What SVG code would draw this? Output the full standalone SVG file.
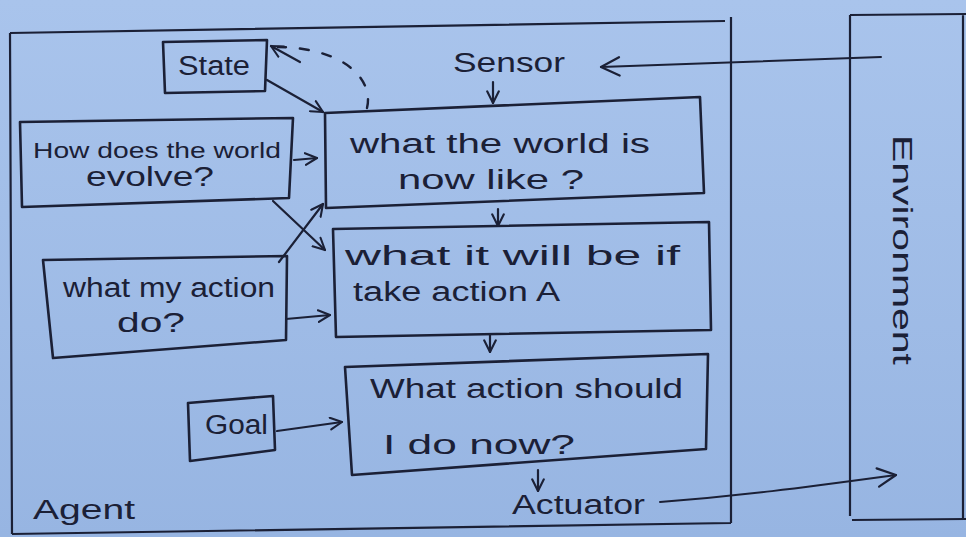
<svg xmlns="http://www.w3.org/2000/svg" width="966" height="537" viewBox="0 0 966 537">
  <defs>
    <linearGradient id="paper" x1="0" y1="0" x2="0" y2="1">
      <stop offset="0" stop-color="#a9c4ec"/>
      <stop offset="1" stop-color="#97b5e2"/>
    </linearGradient>
    <marker id="head" viewBox="0 0 12 12" refX="11" refY="6" markerWidth="14" markerHeight="14" markerUnits="userSpaceOnUse" orient="auto">
      <path d="M1,1 L11,6 L1,11" fill="none" stroke="#1b2036" stroke-width="1.8" stroke-linecap="round" stroke-linejoin="round"/>
    </marker>
    <marker id="headBig" viewBox="0 0 12 12" refX="11" refY="6" markerWidth="22" markerHeight="22" markerUnits="userSpaceOnUse" orient="auto">
      <path d="M1,1 L11,6 L1,11" fill="none" stroke="#1b2036" stroke-width="1.2" stroke-linecap="round" stroke-linejoin="round"/>
    </marker>
  </defs>
  <style>
    .frame { fill: none; stroke: #1b2036; stroke-width: 2.2; stroke-linejoin: round; }
    .box { fill: none; stroke: #1b2036; stroke-width: 2.6; stroke-linejoin: round; }
    .wire { fill: none; stroke: #1b2036; stroke-width: 2.2; stroke-linecap: round; marker-end: url(#head); }
    .long { fill: none; stroke: #1b2036; stroke-width: 2; stroke-linecap: round; marker-end: url(#headBig); }
    .dash { fill: none; stroke: #1b2036; stroke-width: 2.4; stroke-linecap: round; stroke-dasharray: 9 14; }
    text { font-family: "Liberation Sans", "DejaVu Sans", sans-serif; fill: #1b2036; }
    .t { font-size: 27px; }
    .s { font-size: 22px; }
  </style>

  <rect width="966" height="537" fill="url(#paper)"/>

  <!-- agent frame -->
  <g id="agent">
    <path class="frame" d="M10,33 L725,21 M731,17 L731,523 M12,534 L731,523 M10,33 L12,534"/>
    <text class="t" x="33" y="519" font-size="32" textLength="102" lengthAdjust="spacingAndGlyphs">Agent</text>
  </g>

  <!-- environment frame -->
  <g id="environment">
    <path class="frame" d="M850,15 L850,516 M850,15 L966,14 M852,520 L966,519 M963,15 L963,519"/>
    <text class="t" transform="translate(893,135) rotate(90)" font-size="30" textLength="230" lengthAdjust="spacingAndGlyphs">Environment</text>
  </g>

  <g id="state">
    <path class="box" d="M163,42 L267,40 L265,91 L165,93 Z"/>
    <text class="t" x="178" y="75" textLength="72" lengthAdjust="spacingAndGlyphs">State</text>
  </g>

  <g id="evolve">
    <path class="box" d="M20,122 L293,118 L289,198 L22,207 Z"/>
    <text class="s" x="33" y="158" textLength="248" lengthAdjust="spacingAndGlyphs">How does the world</text>
    <text class="t" x="86" y="186" textLength="128" lengthAdjust="spacingAndGlyphs">evolve?</text>
  </g>

  <g id="action-effect">
    <path class="box" d="M43,260 L287,256 L286,340 L53,358 Z"/>
    <text class="t" x="63" y="297" textLength="212" lengthAdjust="spacingAndGlyphs">what my action</text>
    <text class="t" x="117" y="332" textLength="68" lengthAdjust="spacingAndGlyphs">do?</text>
  </g>

  <g id="goal">
    <path class="box" d="M188,403 L273,396 L275,450 L190,461 Z"/>
    <text class="t" x="205" y="434" textLength="63" lengthAdjust="spacingAndGlyphs">Goal</text>
  </g>

  <g id="world-now">
    <path class="box" d="M325,113 L700,97 L704,193 L326,208 Z"/>
    <text class="t" x="350" y="153" textLength="300" lengthAdjust="spacingAndGlyphs">what the world is</text>
    <text class="t" x="398" y="189" textLength="186" lengthAdjust="spacingAndGlyphs">now like ?</text>
  </g>

  <g id="world-next">
    <path class="box" d="M333,229 L709,222 L711,330 L336,337 Z"/>
    <text class="t" x="345" y="265" textLength="335" lengthAdjust="spacingAndGlyphs">what it will be if</text>
    <text class="t" x="353" y="301" textLength="207" lengthAdjust="spacingAndGlyphs">take action A</text>
  </g>

  <g id="decide">
    <path class="box" d="M345,367 L708,354 L706,449 L352,475 Z"/>
    <text class="t" x="370" y="398" textLength="313" lengthAdjust="spacingAndGlyphs">What action should</text>
    <text class="t" x="383" y="454" textLength="192" lengthAdjust="spacingAndGlyphs">I do now?</text>
  </g>

  <g id="sensor">
    <text class="t" x="453" y="72" textLength="112" lengthAdjust="spacingAndGlyphs">Sensor</text>
  </g>

  <g id="actuator">
    <text class="t" x="512" y="514" textLength="133" lengthAdjust="spacingAndGlyphs">Actuator</text>
  </g>

  <!-- connectors -->
  <g id="connectors">
    <path class="long" d="M881,57 L601,67"/>
    <path class="wire" d="M493,82 L493,103"/>
    <path class="wire" d="M267,80 L323,112"/>
    <path class="dash" d="M367,108 C374,80 345,48 278,47"/>
    <path class="wire" d="M300,62 L271,46" stroke-dasharray="0"/>
    <path class="wire" d="M294,160 L317,158"/>
    <path class="wire" d="M273,201 L325,250"/>
    <path class="wire" d="M279,262 L323,204"/>
    <path class="wire" d="M286,319 L330,315"/>
    <path class="wire" d="M498,209 L498,226"/>
    <path class="wire" d="M490,334 L490,352"/>
    <path class="wire" d="M277,431 L342,422"/>
    <path class="wire" d="M538,470 L538,491"/>
    <path class="long" d="M660,502 C740,496 800,488 896,475"/>
  </g>
</svg>
